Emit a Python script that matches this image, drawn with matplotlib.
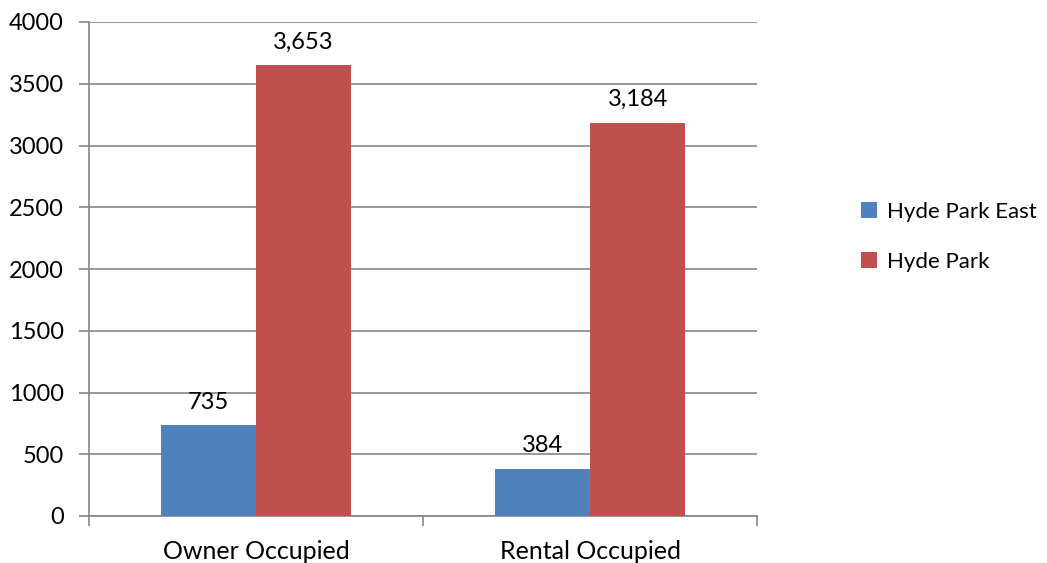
import matplotlib
matplotlib.use("Agg")
import matplotlib.pyplot as plt
import numpy as np

categories = ["Owner Occupied", "Rental Occupied"]
series_names = ["Hyde Park East", "Hyde Park"]
hyde_park_east = [735, 384]
hyde_park = [3653, 3184]
value_labels_east = ["735", "384"]
value_labels_hp = ["3,653", "3,184"]
yticks = [0, 500, 1000, 1500, 2000, 2500, 3000, 3500, 4000]

plt.rcParams['font.family'] = ['Lato', 'DejaVu Sans']
fs = 17

fig = plt.figure(figsize=(10.47, 5.63), dpi=100)
ax = fig.add_axes([89/1047, 1-516/563, (757-89)/1047, (516-22)/563])

blue = "#4F81BD"
red = "#C0504D"
grid = "#868686"
x = np.arange(len(categories))
w = 0.285
b1 = ax.bar(x - w/2, hyde_park_east, w, color=blue, label=series_names[0], zorder=3)
b2 = ax.bar(x + w/2, hyde_park, w, color=red, label=series_names[1], zorder=3)

for rect, lab in zip(b1, value_labels_east):
    ax.annotate(lab, (rect.get_x() + rect.get_width()/2, rect.get_height()),
                xytext=(0, 9), textcoords="offset points", ha="center", va="bottom", fontsize=fs)
for rect, lab in zip(b2, value_labels_hp):
    ax.annotate(lab, (rect.get_x() + rect.get_width()/2, rect.get_height()),
                xytext=(0, 9), textcoords="offset points", ha="center", va="bottom", fontsize=fs)

ax.set_xlim(-0.5, 1.5)
ax.set_ylim(0, 4000)
ax.set_yticks(yticks)
ax.set_yticklabels([str(t) for t in yticks], fontsize=fs)
ax.yaxis.grid(True, color=grid, linewidth=1.2, zorder=0)
ax.set_axisbelow(True)
ax.tick_params(axis='y', length=7, width=1.2, color=grid, pad=11)

ax.set_xticks([-0.5, 0.5, 1.5])
ax.set_xticklabels([])
ax.set_xticks(x, minor=True)
ax.set_xticklabels(categories, minor=True, fontsize=18)
ax.tick_params(axis='x', which='major', length=7, width=1.2, color=grid, direction='out')
ax.tick_params(axis='x', which='minor', length=0, pad=17)

for s in ['top', 'right']:
    ax.spines[s].set_visible(False)
for s in ['left', 'bottom']:
    ax.spines[s].set_color(grid)
    ax.spines[s].set_linewidth(1.2)

leg = fig.legend(handles=[b1, b2], labels=series_names, loc="center left",
                 bbox_to_anchor=(861/1047, 1-237/563), frameon=False, fontsize=16,
                 borderaxespad=0, borderpad=0,
                 handlelength=0.7, handleheight=0.7, handletextpad=0.45, labelspacing=1.35)

fig.savefig("out.png", dpi=100)
